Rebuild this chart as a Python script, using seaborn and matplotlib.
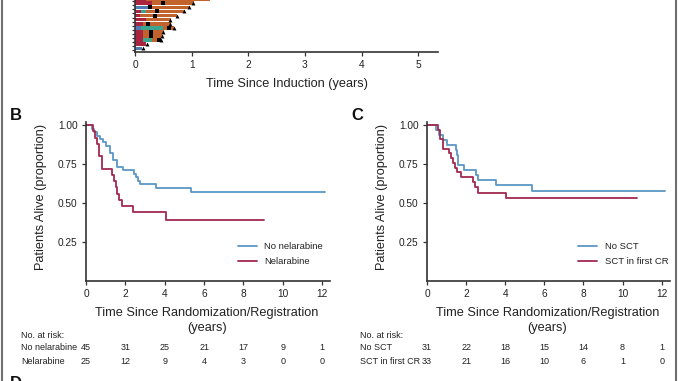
import numpy as np
import pandas as pd
import matplotlib
matplotlib.use("Agg")
import matplotlib.pyplot as plt
import matplotlib.transforms as mtransforms
from matplotlib.lines import Line2D
import seaborn as sns

# ---------------- Data ----------------
# Panel A (swimmer plot, only its lower part is visible)
swim_row = list(range(13))
swim_first_type = ["blue", "crimson", "crimson", "crimson", "crimson", "blue", "crimson",
                   "crimson", "crimson", "crimson", "blue", "crimson", "crimson"]
swim_first_end = [0.12, 0.20, 0.15, 0.15, 0.15, 0.10, 0.15, 0.20, 0.08, 0.10, 0.25, 0.30, 0.20]
swim_teal_end = [0.12, 0.20, 0.30, 0.15, 0.15, 0.50, 0.15, 0.20, 0.08, 0.20, 0.25, 0.30, 0.20]
swim_total_end = [0.12, 0.20, 0.45, 0.48, 0.52, 0.68, 0.63, 0.63, 0.75, 0.88, 0.97, 1.05, 1.33]
swim_square_row = [2, 3, 4, 5, 6, 8, 9, 10, 11]
swim_square_t = [0.42, 0.29, 0.28, 0.60, 0.23, 0.35, 0.38, 0.26, 0.50]
swim_tri_row = [0, 1, 2, 3, 4, 5, 6, 7, 8, 9, 10, 11]
swim_tri_t = [0.15, 0.22, 0.46, 0.47, 0.50, 0.68, 0.62, 0.62, 0.74, 0.87, 0.96, 1.03]
a_xticks = [0, 1, 2, 3, 4, 5]

# Panel B
b_no_t = [0, 0.3, 0.4, 0.55, 0.7, 0.85, 1.0, 1.2, 1.35, 1.55, 1.9, 2.45, 2.55, 2.65, 2.75, 3.55, 5.35, 12.15]
b_no_s = [1.0, 0.978, 0.956, 0.933, 0.911, 0.889, 0.867, 0.822, 0.778, 0.733, 0.711, 0.689, 0.667,
          0.644, 0.622, 0.596, 0.568, 0.568]
b_nel_t = [0, 0.35, 0.45, 0.55, 0.65, 0.8, 1.3, 1.4, 1.5, 1.6, 1.7, 1.85, 2.4, 4.05, 9.05]
b_nel_s = [1.0, 0.96, 0.92, 0.88, 0.80, 0.72, 0.68, 0.64, 0.60, 0.56, 0.52, 0.48, 0.44, 0.39, 0.39]
b_labels = ["No nelarabine", "Nelarabine"]
b_risk_no = [45, 31, 25, 21, 17, 9, 1]
b_risk_nel = [25, 12, 9, 4, 3, 0, 0]

# Panel C
c_no_t = [0, 0.45, 0.6, 0.8, 1.0, 1.5, 1.55, 1.6, 1.9, 2.5, 2.6, 3.55, 5.35, 12.15]
c_no_s = [1.0, 0.968, 0.935, 0.903, 0.871, 0.839, 0.806, 0.742, 0.710, 0.677, 0.645, 0.613, 0.580, 0.580]
c_sct_t = [0, 0.55, 0.65, 0.8, 1.15, 1.25, 1.35, 1.45, 1.55, 1.75, 2.35, 2.45, 2.6, 4.05, 10.75]
c_sct_s = [1.0, 0.97, 0.909, 0.848, 0.818, 0.788, 0.758, 0.727, 0.697, 0.667, 0.636, 0.606, 0.564, 0.530, 0.530]
c_labels = ["No SCT", "SCT in first CR"]
c_risk_no = [31, 22, 18, 15, 14, 8, 1]
c_risk_sct = [33, 21, 16, 10, 6, 1, 0]

km_xticks = [0, 2, 4, 6, 8, 10, 12]
km_yticks = [0.25, 0.50, 0.75, 1.00]
km_yticklabels = ["0.25", "0.50", "0.75", "1.00"]

# ---------------- Style ----------------
sns.set_style("ticks")
plt.rcParams["font.family"] = ["Liberation Sans", "DejaVu Sans"]

BLUE_LINE = "#5b97c6"
RED_LINE = "#a3294f"
C_CRIMSON = "#a8243f"
C_BLUE = "#4f7db3"
C_TEAL = "#3ba58f"
C_ORANGE = "#c2632e"
TXT = "#222222"
SPINE = "#333333"
LABEL_FS = 9.2
RISK_FS = 6.5

W, H = 678, 381
fig = plt.figure(figsize=(W / 100, H / 100), dpi=100)
fig.patch.set_facecolor("white")


def fx(px):
    return px / W


def fy(py):
    return 1 - py / H


def style_axes(ax):
    sns.despine(ax=ax)
    for sp in ["left", "bottom"]:
        ax.spines[sp].set_color(SPINE)
        ax.spines[sp].set_linewidth(1.2)
    ax.tick_params(axis="both", length=3, width=0.9, color=SPINE, labelsize=7.3,
                   labelcolor=TXT, pad=3)


# ---------------- Panel A ----------------
axA = fig.add_axes([fx(135), fy(52), fx(438 - 135), (52 + 7) / H])
sdf = pd.DataFrame({"row": swim_row, "first": swim_first_end, "teal": swim_teal_end,
                    "total": swim_total_end, "ftype": swim_first_type})
BW = 0.88
sns.barplot(data=sdf, x="total", y="row", orient="y", color=C_ORANGE, order=swim_row,
            width=BW, errorbar=None, linewidth=0, saturation=1, ax=axA)
sns.barplot(data=sdf, x="teal", y="row", orient="y", color=C_TEAL, order=swim_row,
            width=BW, errorbar=None, linewidth=0, saturation=1, ax=axA)
sns.barplot(data=sdf, x="first", y="row", hue="ftype", orient="y", order=swim_row,
            palette={"blue": C_BLUE, "crimson": C_CRIMSON}, dodge=False,
            width=BW, errorbar=None, linewidth=0, saturation=1, legend=False, ax=axA)
sns.scatterplot(x=swim_square_t, y=swim_square_row, marker="s", s=6, color="black",
                linewidth=0, ax=axA)
sns.scatterplot(x=swim_tri_t, y=swim_tri_row, marker="^", s=8, color="black",
                linewidth=0, ax=axA)
axA.set_xlim(0, 5.35)
axA.set_ylim(-0.9, 13.5)
style_axes(axA)
axA.set_xticks(a_xticks)
axA.set_xticklabels([str(v) for v in a_xticks])
axA.set_yticks(np.arange(-0.5, 13, 1))
axA.set_yticklabels([])
axA.tick_params(axis="y", length=2.5)
axA.set_ylabel("")
axA.set_xlabel("Time Since Induction (years)", fontsize=LABEL_FS, color=TXT)
axA.xaxis.set_label_coords(0.502, -0.44)
axA.xaxis.label.set_va("top")


# ---------------- KM panels ----------------
def km_panel(left_px, right_px, letter, t1, s1, t2, s2, labels, risk1, risk2, label_x_px):
    ax = fig.add_axes([fx(left_px), fy(281), fx(right_px - left_px), (281 - 122) / H])
    sns.lineplot(x=t1, y=s1, drawstyle="steps-post", estimator=None, sort=False,
                 color=BLUE_LINE, linewidth=1.3, ax=ax, label=labels[0])
    sns.lineplot(x=t2, y=s2, drawstyle="steps-post", estimator=None, sort=False,
                 color=RED_LINE, linewidth=1.3, ax=ax, label=labels[1])
    ax.set_xlim(0, 12.4)
    ax.set_ylim(0, 1.02)
    style_axes(ax)
    ax.set_xticks(km_xticks)
    ax.set_xticklabels([str(v) for v in km_xticks])
    ax.set_yticks(km_yticks)
    ax.set_yticklabels(km_yticklabels)
    ax.set_xlabel("Time Since Randomization/Registration\n(years)", fontsize=LABEL_FS,
                  color=TXT, linespacing=1.3)
    ax.xaxis.set_label_coords(0.496, -0.165)
    ax.xaxis.label.set_va("top")
    ax.set_ylabel("Patients Alive (proportion)", fontsize=LABEL_FS, color=TXT)
    ax.yaxis.set_label_coords(-0.16, 0.528)
    leg = ax.legend(loc="upper left", bbox_to_anchor=(0.623, 0.245), frameon=False,
                    fontsize=6.8, handlelength=2.0, handletextpad=0.8, labelspacing=0.65,
                    borderpad=0, borderaxespad=0)
    for txt in leg.get_texts():
        txt.set_color(TXT)
    # panel letter
    fig.text(fx(left_px - 76), fy(115), letter, fontsize=12, fontweight="bold",
             color="#111111", ha="left", va="center")
    # risk table
    fig.text(fx(label_x_px), fy(335), "No. at risk:", fontsize=RISK_FS, color=TXT,
             ha="left", va="center")
    fig.text(fx(label_x_px), fy(348), labels[0], fontsize=RISK_FS, color=TXT,
             ha="left", va="center")
    fig.text(fx(label_x_px), fy(361), labels[1], fontsize=RISK_FS, color=TXT,
             ha="left", va="center")
    tr = mtransforms.blended_transform_factory(ax.transData, fig.transFigure)
    for xv, n1, n2 in zip(km_xticks, risk1, risk2):
        ax.text(xv, fy(348), str(n1), transform=tr, fontsize=RISK_FS, color=TXT,
                ha="center", va="center", clip_on=False)
        ax.text(xv, fy(361), str(n2), transform=tr, fontsize=RISK_FS, color=TXT,
                ha="center", va="center", clip_on=False)
    return ax


km_panel(86, 330, "B", b_no_t, b_no_s, b_nel_t, b_nel_s, b_labels, b_risk_no, b_risk_nel, 21)
km_panel(427, 669.5, "C", c_no_t, c_no_s, c_sct_t, c_sct_s, c_labels, c_risk_no, c_risk_sct, 360)

# next panel letter just peeking in at the bottom
fig.text(fx(10), fy(375.5), "D", fontsize=12, fontweight="bold", color="#111111",
         ha="left", va="top")

# page frame lines
fig.add_artist(Line2D([fx(2), fx(2)], [0, 1], color="#6f6f6f", linewidth=1.5,
                      transform=fig.transFigure))
fig.add_artist(Line2D([fx(676), fx(676)], [0, 1], color="#6f6f6f", linewidth=1.5,
                      transform=fig.transFigure))

fig.savefig("out.png", dpi=100)
